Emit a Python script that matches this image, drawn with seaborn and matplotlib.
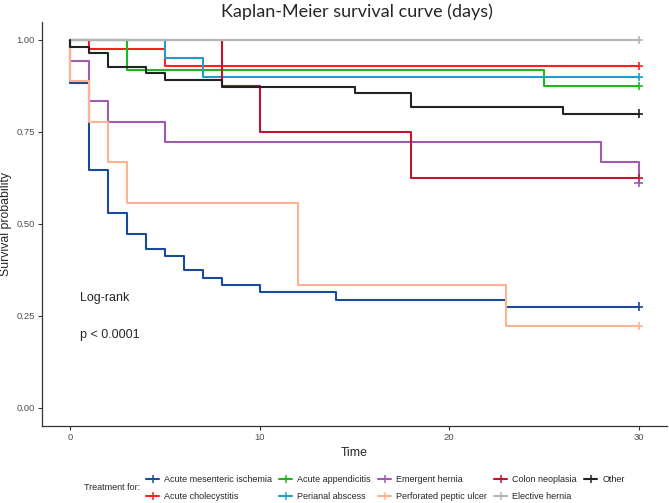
import numpy as np
import pandas as pd
import matplotlib
matplotlib.use("Agg")
import matplotlib.pyplot as plt
from matplotlib.lines import Line2D
import seaborn as sns

# ---- data ----
groups = ["Acute mesenteric ischemia", "Acute cholecystitis", "Acute appendicitis",
          "Perianal abscess", "Emergent hernia", "Perforated peptic ulcer",
          "Colon neoplasia", "Elective hernia", "Other"]

t_ami = [0, 0, 1, 2, 3, 4, 5, 6, 7, 8, 10, 14, 23, 30]
s_ami = [1, .882, .647, .529, .471, .431, .412, .373, .353, .333, .314, .294, .275, .275]
t_chol = [0, 1, 5, 30]
s_chol = [1, .976, .929, .929]
t_app = [0, 3, 25, 30]
s_app = [1, .917, .875, .875]
t_peri = [0, 5, 7, 30]
s_peri = [1, .95, .90, .90]
t_emh = [0, 0, 1, 2, 5, 28, 30]
s_emh = [1, .944, .833, .778, .722, .667, .611]
t_ppu = [0, 0, 1, 2, 3, 12, 23, 30]
s_ppu = [1, .889, .778, .667, .556, .333, .222, .222]
t_col = [0, 8, 10, 18, 30]
s_col = [1, .875, .75, .625, .625]
t_elh = [0, 30]
s_elh = [1, 1]
t_oth = [0, 0, 1, 2, 4, 5, 8, 15, 18, 26, 30]
s_oth = [1, .982, .964, .927, .909, .891, .873, .855, .818, .800, .800]

times = [t_ami, t_chol, t_app, t_peri, t_emh, t_ppu, t_col, t_elh, t_oth]
survs = [s_ami, s_chol, s_app, s_peri, s_emh, s_ppu, s_col, s_elh, s_oth]

colors = ["#18499B", "#FF1F1F", "#22B522", "#1F9EC9", "#9E5CAE",
          "#FFB291", "#C4112D", "#AFB7B9", "#222222"]

x_ticks = [0, 10, 20, 30]
y_ticks = [0.00, 0.25, 0.50, 0.75, 1.00]
y_tick_labels = ["0.00", "0.25", "0.50", "0.75", "1.00"]

rows = []
for g, tt, ss in zip(groups, times, survs):
    for i, (t, s) in enumerate(zip(tt, ss)):
        rows.append({"group": g, "time": t, "surv": s, "order": i})
df = pd.DataFrame(rows)
cens = df.sort_values("order").groupby("group", sort=False).tail(1)

sns.set_style("white")
plt.rcParams["font.family"] = ["Liberation Sans", "DejaVu Sans"]

fig = plt.figure(figsize=(6.69, 5.03), dpi=100)
ax = fig.add_axes([42/669, 1-426/503, (667-42)/669, (426-21.6)/503])

pal = dict(zip(groups, colors))
sns.lineplot(data=df, x="time", y="surv", hue="group", hue_order=groups,
             palette=pal, estimator=None, sort=False, units="group",
             drawstyle="steps-post", linewidth=1.5, legend=False, ax=ax)
sns.scatterplot(data=cens, x="time", y="surv", hue="group", hue_order=groups,
                palette=pal, marker="+", s=35, linewidth=1.2, legend=False,
                ax=ax, zorder=5)

ax.set_xlim(-1.5, 31.5)
ax.set_ylim(-0.05, 1.05)
ax.set_xticks(x_ticks)
ax.set_yticks(y_ticks)
ax.set_yticklabels(y_tick_labels)
ax.tick_params(axis="both", labelsize=6.8, colors="#333333", labelcolor="#4D4D4D",
               length=3, width=0.8, direction="out", left=True, bottom=True, pad=2)
for side in ["top", "right"]:
    ax.spines[side].set_visible(False)
for side in ["left", "bottom"]:
    ax.spines[side].set_color("#333333")
    ax.spines[side].set_linewidth(0.9)

ax.set_xlabel("Time", fontsize=8.8, labelpad=4)
ax.set_ylabel("Survival probability", fontsize=8.8, labelpad=3)

ax.text(0.5, 0.298, "Log-rank", fontsize=9, va="center", ha="left")
ax.text(0.5, 0.198, "p < 0.0001", fontsize=9, va="center", ha="left")

fig.text(357/669, 1-12/503, "Kaplan-Meier survival curve (days)", fontsize=13,
         family=["Lato", "DejaVu Sans"], ha="center", va="center")

handles = [Line2D([0], [0], color=c, lw=1.5, marker="+", markersize=5.5, mew=1.1)
           for c in colors]
leg = fig.legend(handles, groups, loc="center left",
                 bbox_to_anchor=(146/669, 1-488/503), ncol=5, frameon=False,
                 fontsize=6.5, handlelength=1.45, handletextpad=0.55,
                 columnspacing=0.8, labelspacing=0.9, borderpad=0, borderaxespad=0)
fig.text(140/669, 1-488/503, "Treatment for:", fontsize=6.5, ha="right", va="center")

fig.savefig("out.png", dpi=100)
